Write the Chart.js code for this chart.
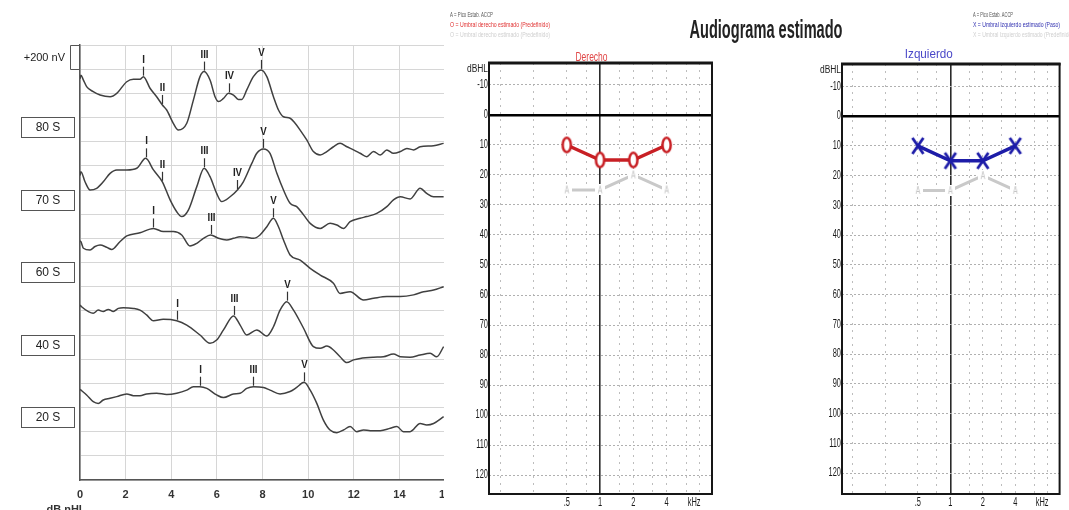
<!DOCTYPE html>
<html><head><meta charset="utf-8">
<script src="https://cdn.jsdelivr.net/npm/chart.js@4.4.1/dist/chart.umd.min.js"></script>
<style>
html,body{margin:0;padding:0;background:#fff;width:1069px;height:510px;overflow:hidden;}
#abrWrap{position:absolute;left:0;top:0;width:444px;height:510px;overflow:hidden;}
#abr{position:absolute;left:0;top:0;}
#right{position:absolute;left:440px;top:0;}
#left{position:absolute;left:793px;top:0;}
</style></head><body>
<div id="abrWrap"><canvas id="abr" width="470" height="510"></canvas></div>
<canvas id="right" width="420" height="510"></canvas>
<canvas id="left" width="276" height="510"></canvas>
<script>
// ---------- ABR data (x = latency ms, y = trace level in 200 nV divisions) ----------
const trace80 = [[0,16.6],[0.04,16.75],[0.15,16.55],[0.29,16.28],[0.58,16.07],[0.88,15.93],[1.32,15.86],[1.61,16.0],[2.05,16.48],[2.34,16.58],[2.63,16.58],[2.78,16.69],[3.07,16.21],[3.36,15.86],[3.61,15.52],[3.80,15.31],[4.09,14.76],[4.31,14.48],[4.68,14.76],[4.97,15.72],[5.26,16.69],[5.44,16.90],[5.70,16.55],[5.92,15.86],[6.07,15.66],[6.29,15.79],[6.51,16.0],[6.73,15.93],[6.94,15.75],[7.09,15.75],[7.31,16.14],[7.60,16.69],[7.94,16.97],[8.19,16.69],[8.48,15.86],[8.70,15.31],[8.92,15.03],[9.21,14.97],[9.43,14.76],[9.65,14.48],[9.94,14.07],[10.23,13.59],[10.53,13.45],[10.82,13.59],[11.11,13.79],[11.40,13.93],[11.70,13.79],[11.99,13.66],[12.28,13.52],[12.57,13.38],[12.87,13.59],[13.16,13.45],[13.45,13.66],[13.74,13.52],[14.04,13.59],[14.33,13.72],[14.62,13.66],[14.91,13.79],[15.50,13.83],[15.94,13.93]];
const trace70 = [[0,12.6],[0.04,12.76],[0.22,12.34],[0.44,12.0],[0.73,12.07],[1.02,12.34],[1.32,12.69],[1.61,12.83],[2.05,12.83],[2.49,12.90],[2.88,13.31],[3.22,12.83],[3.61,12.34],[3.95,11.59],[4.24,11.10],[4.46,10.90],[4.75,11.17],[5.12,12.14],[5.44,12.90],[5.70,12.55],[5.99,11.86],[6.21,11.52],[6.58,11.72],[6.90,12.0],[7.16,12.34],[7.53,13.10],[7.75,13.52],[8.04,13.70],[8.33,13.52],[8.63,12.69],[8.92,12.0],[9.21,11.45],[9.50,11.31],[9.80,10.97],[10.09,10.62],[10.53,10.41],[10.96,10.62],[11.26,10.55],[11.55,10.41],[11.84,10.69],[12.28,10.83],[12.57,10.90],[13.01,11.03],[13.45,11.31],[13.74,11.59],[14.04,11.72],[14.47,11.63],[14.91,12.07],[15.20,11.86],[15.50,11.72],[15.94,11.72]];
const trace60 = [[0,9.9],[0.04,9.86],[0.15,9.59],[0.44,9.52],[0.66,9.66],[0.88,9.72],[1.17,9.63],[1.39,9.54],[1.75,9.86],[2.05,10.10],[2.63,10.23],[3.22,10.41],[3.65,10.28],[4.09,10.28],[4.46,10.14],[4.82,9.68],[5.12,9.79],[5.41,10.0],[5.73,10.14],[6.07,10.0],[6.43,9.93],[6.73,10.0],[7.02,10.07],[7.31,10.04],[7.60,10.0],[7.89,10.14],[8.19,10.48],[8.48,10.83],[8.70,10.48],[8.92,9.93],[9.21,9.31],[9.65,9.10],[10.09,8.76],[10.53,8.48],[11.11,8.14],[11.40,7.72],[11.84,7.79],[12.43,7.45],[12.87,7.52],[13.45,7.59],[14.04,7.59],[14.62,7.66],[15.06,7.79],[15.50,7.86],[15.94,8.0]];
const trace40 = [[0,7.24],[0.07,7.17],[0.37,6.97],[0.58,6.90],[0.80,7.03],[1.02,6.97],[1.24,7.06],[1.46,6.97],[1.68,7.10],[1.90,7.13],[2.34,7.10],[2.63,7.03],[2.92,6.83],[3.22,6.59],[3.65,6.65],[4.24,6.59],[4.68,6.41],[5.26,6.0],[5.70,5.66],[5.99,5.79],[6.29,6.21],[6.73,6.79],[7.02,6.41],[7.31,6.0],[7.75,6.21],[8.19,5.96],[8.48,6.34],[8.77,7.03],[9.06,7.38],[9.36,7.03],[9.80,6.28],[10.23,5.52],[10.53,5.45],[10.82,5.54],[11.11,5.38],[11.40,5.10],[11.70,4.86],[11.99,4.97],[12.28,5.03],[12.87,5.08],[13.30,5.10],[13.74,5.21],[14.04,5.10],[14.47,5.08],[14.91,5.17],[15.35,5.24],[15.64,5.10],[15.94,5.52]];
const trace20 = [[0,3.75],[0.04,3.72],[0.29,3.52],[0.58,3.24],[0.80,3.17],[1.02,3.31],[1.32,3.38],[1.61,3.45],[2.05,3.56],[2.34,3.49],[2.63,3.49],[2.92,3.56],[3.36,3.59],[3.80,3.54],[4.24,3.59],[4.68,3.72],[4.97,3.86],[5.26,3.86],[5.56,3.79],[5.99,3.52],[6.29,3.41],[6.73,3.56],[7.02,3.59],[7.31,3.79],[7.60,3.86],[8.04,3.83],[8.33,3.72],[8.77,3.56],[9.21,3.66],[9.50,3.83],[9.82,4.04],[10.09,3.72],[10.38,3.17],[10.67,2.48],[10.96,2.07],[11.26,1.96],[11.55,2.07],[11.84,2.21],[12.13,2.0],[12.43,2.07],[12.72,2.04],[13.16,2.04],[13.60,2.14],[13.89,2.21],[14.18,2.0],[14.47,2.0],[14.91,2.34],[15.20,2.28],[15.50,2.34],[15.94,2.62]];
const peaks80 = [['I',2.78],['II',3.61],['III',5.44],['IV',6.51],['V',7.94]];
const peaks70 = [['I',2.88],['II',3.61],['III',5.44],['IV',6.90],['V',8.04]];
const peaks60 = [['I',3.22],['III',5.73],['V',8.48]];
const peaks40 = [['I',4.24],['III',6.73],['V',9.06]];
const peaks20 = [['I',5.26],['III',7.60],['V',9.82]];
const levelLabels = ['80 S','70 S','60 S','40 S','20 S'];
const levelPos = [14.6, 11.6, 8.6, 5.6, 2.6];
const scaleBarLabel = '+200 nV';
const scaleBarTop = 18, scaleBarSize = 1;
const abrXLabel = 'dB nHL';

// ---------- Audiogram data ----------
const freqs = [0.5, 1, 2, 4];
const rightThreshold = [10, 15, 15, 10];
const rightEstimate = [25, 25, 20, 25];
const leftThreshold = [10, 15, 15, 10];
const leftEstimate = [25, 25, 20, 25];
const gridFreqs = [0.125, 0.25, 0.5, 0.75, 1, 1.5, 2, 3, 4, 6, 8];
const freqLabelVals = [0.5, 1, 2, 4];
const freqLabelText = ['.5', '1', '2', '4'];
const dbTicks = [-10, 0, 10, 20, 30, 40, 50, 60, 70, 80, 90, 100, 110, 120];

const FONT = '"Liberation Sans", Arial, sans-serif';
Chart.defaults.font.family = FONT;

function drawText(ctx, s, x, y, o) {
  ctx.save();
  ctx.font = o.font; ctx.fillStyle = o.color || '#222';
  ctx.textAlign = o.align || 'center'; ctx.textBaseline = o.base || 'middle';
  let sx = o.sx || 1;
  if (o.width) sx = o.width / ctx.measureText(s).width;
  ctx.translate(x, y); ctx.scale(sx, 1); ctx.fillText(s, 0, 0);
  ctx.restore();
}

// ---------- ABR chart ----------
const traces = [trace80, trace70, trace60, trace40, trace20];
const peakSets = [peaks80, peaks70, peaks60, peaks40, peaks20];

const abrOverlay = {
  id: 'abrOverlay',
  afterDraw(chart) {
    const {ctx, chartArea: a, scales: {x, y}} = chart;
    ctx.save();
    levelLabels.forEach((lab, i) => {
      const py = Math.round(y.getPixelForValue(levelPos[i]));
      ctx.fillStyle = '#fff'; ctx.fillRect(21, py - 10, 53, 20);
      ctx.strokeStyle = '#555'; ctx.lineWidth = 1; ctx.strokeRect(21.5, py - 9.5, 53, 20);
      drawText(ctx, lab, 48, py + 1, {font: '12px ' + FONT, color: '#222'});
    });
    const yT = Math.round(y.getPixelForValue(scaleBarTop)) + 0.5;
    const yB = Math.round(y.getPixelForValue(scaleBarTop - scaleBarSize)) + 0.5;
    ctx.strokeStyle = '#555'; ctx.lineWidth = 1;
    ctx.beginPath(); ctx.moveTo(a.left, yT); ctx.lineTo(70.5, yT); ctx.lineTo(70.5, yB); ctx.lineTo(a.left, yB); ctx.stroke();
    drawText(ctx, scaleBarLabel, 65, (yT + yB) / 2, {font: '11px ' + FONT, color: '#222', align: 'right'});
    chart.data.datasets.forEach((ds, i) => {
      peakSets[i].forEach(([lab, t]) => {
        let best = 0;
        ds.data.forEach((p, k) => { if (Math.abs(p.x - t) < Math.abs(ds.data[best].x - t)) best = k; });
        const px = Math.round(x.getPixelForValue(ds.data[best].x)) + 0.5;
        const py = y.getPixelForValue(ds.data[best].y);
        ctx.strokeStyle = '#333'; ctx.lineWidth = 1.2;
        ctx.beginPath(); ctx.moveTo(px, py - 1); ctx.lineTo(px, py - 10); ctx.stroke();
        drawText(ctx, lab, px, py - 14, {font: 'bold 11px ' + FONT, color: '#222', base: 'alphabetic', sx: 0.88});
      });
    });
    drawText(ctx, abrXLabel, 66, 504, {font: 'bold 11px ' + FONT, color: '#333', base: 'top'});
    ctx.restore();
  }
};

new Chart(document.getElementById('abr'), {
  type: 'line',
  data: {
    datasets: traces.map((t, i) => ({
      label: levelLabels[i],
      data: t.map(p => ({x: p[0], y: p[1]})),
      borderColor: '#404040', borderWidth: 1.5, pointRadius: 0,
      cubicInterpolationMode: 'monotone', fill: false
    }))
  },
  options: {
    responsive: false, animation: false,
    layout: {padding: {top: 45, right: 25, left: 0, bottom: 0}},
    plugins: {legend: {display: false}, tooltip: {enabled: false}},
    scales: {
      x: {type: 'linear', min: 0, max: 16,
        ticks: {stepSize: 2, padding: 8, color: '#333', font: {size: 11, weight: 'bold'}},
        grid: {color: '#d6d6d6', drawTicks: false},
        border: {color: '#555', width: 1.5},
        afterFit: s => { s.height = 30; }},
      y: {type: 'linear', min: 0, max: 18,
        ticks: {stepSize: 1, display: false},
        grid: {color: '#d6d6d6', drawTicks: false},
        border: {color: '#555', width: 1.5},
        afterFit: s => { s.width = 80; }}
    }
  },
  plugins: [abrOverlay]
});

// ---------- Audiograms ----------
function markerO(color) {
  const c = document.createElement('canvas'); c.width = 13; c.height = 19;
  const g = c.getContext('2d');
  g.beginPath(); g.ellipse(6.5, 9.5, 4.1, 7.2, 0, 0, Math.PI * 2);
  g.fillStyle = '#fff'; g.fill(); g.lineWidth = 2.5; g.strokeStyle = color; g.stroke();
  return c;
}
function markerX(color) {
  const c = document.createElement('canvas'); c.width = 16; c.height = 20;
  const g = c.getContext('2d');
  g.strokeStyle = color; g.lineWidth = 2.8;
  g.beginPath(); g.moveTo(2.5, 2); g.lineTo(13.5, 18); g.moveTo(13.5, 2); g.lineTo(2.5, 18); g.stroke();
  return c;
}
function markerA(color) {
  const c = document.createElement('canvas'); c.width = 10; c.height = 11;
  const g = c.getContext('2d');
  g.fillStyle = '#fff'; g.fillRect(0, 0, 10, 11);
  g.fillStyle = color; g.font = '10px ' + FONT; g.textAlign = 'center'; g.textBaseline = 'middle';
  g.translate(5, 6); g.scale(0.7, 1); g.fillText('A', 0, 0);
  return c;
}

function makeAudiogram(id, cfg) {
  const overlay = {
    id: 'audioOverlay',
    afterDraw(chart) {
      const {ctx, chartArea: a, scales: {x, y}} = chart;
      ctx.save();
      ctx.strokeStyle = '#161616';
      ctx.lineWidth = 2; ctx.strokeRect(a.left, a.top, a.right - a.left, a.bottom - a.top);
      ctx.lineWidth = 3; ctx.beginPath(); ctx.moveTo(a.left - 1, a.top); ctx.lineTo(a.right + 1, a.top); ctx.stroke();
      y.ticks.forEach(t => drawText(ctx, String(t.value), a.left - 1, y.getPixelForValue(t.value),
        {font: '12px ' + FONT, align: 'right', sx: 0.62, color: '#1a1a1a'}));
      freqLabelVals.forEach((f, i) => drawText(ctx, freqLabelText[i], x.getPixelForValue(f), a.bottom + 9,
        {font: '12px ' + FONT, sx: 0.62, color: '#1a1a1a'}));
      drawText(ctx, 'kHz', x.getPixelForValue(7.1), a.bottom + 9, {font: '12px ' + FONT, sx: 0.62, color: '#1a1a1a'});
      drawText(ctx, 'dBHL', a.left - 1, a.top + 6, {font: '10px ' + FONT, align: 'right', width: 21, color: '#222'});
      drawText(ctx, cfg.side, (a.left + a.right) / 2 + cfg.sideDx, cfg.sideY,
        {font: '13px ' + FONT, color: cfg.sideColor, width: cfg.sideW, base: 'alphabetic'});
      cfg.legend.forEach((l, i) => drawText(ctx, l[0], cfg.legendX, 15 + i * 10,
        {font: '7px ' + FONT, color: l[1], align: 'left', width: l[2]}));
      if (cfg.title) drawText(ctx, cfg.title, cfg.titleX, 38,
        {font: 'bold 25px ' + FONT, color: '#222', base: 'alphabetic', width: 153});
      ctx.restore();
    }
  };
  return new Chart(document.getElementById(id), {
    type: 'line',
    data: {
      datasets: [
        {label: cfg.mainLabel, data: freqs.map((f, i) => ({x: f, y: cfg.main[i]})),
          borderColor: cfg.color, borderWidth: 3.4, pointStyle: cfg.marker, pointRadius: 6, order: 1},
        {label: 'A', data: freqs.map((f, i) => ({x: f, y: cfg.est[i]})),
          borderColor: '#c9c9c9', borderWidth: 3, pointStyle: markerA('#c4c4c4'), pointRadius: 5, order: 2}
      ]
    },
    options: {
      responsive: false, animation: false,
      layout: {padding: {top: cfg.top, right: cfg.padRight, left: 0, bottom: 0}},
      plugins: {legend: {display: false}, tooltip: {enabled: false}},
      scales: {
        x: {type: 'logarithmic', min: 0.099, max: 10.3,
          afterBuildTicks: s => { s.ticks = gridFreqs.map(v => ({value: v})); },
          ticks: {display: false},
          grid: {drawTicks: false,
            color: c => (c.tick && c.tick.value === 1) ? '#2a2a2a' : '#bdbdbd',
            lineWidth: c => (c.tick && c.tick.value === 1) ? 1.6 : 1},
          border: {display: false, dash: c => (c.tick && c.tick.value === 1) ? [] : [2, 5]},
          afterFit: s => { s.height = 16; }},
        y: {type: 'linear', reverse: true, min: cfg.min, max: cfg.max,
          afterBuildTicks: s => { s.ticks = dbTicks.map(v => ({value: v})); },
          ticks: {display: false},
          grid: {drawTicks: false,
            color: c => (c.tick && c.tick.value === 0) ? '#000' : '#b0b0b0',
            lineWidth: c => (c.tick && c.tick.value === 0) ? 2.5 : 1},
          border: {display: false, dash: c => (c.tick && c.tick.value === 0) ? [] : [2, 2]},
          afterFit: s => { s.width = 49; }}
      }
    },
    plugins: [overlay]
  });
}

makeAudiogram('right', {
  mainLabel: 'Derecho', main: rightThreshold, est: rightEstimate,
  color: '#c81f24', marker: markerO('#c81f24'),
  top: 63, min: -17.3, max: 126.3, padRight: 148,
  side: 'Derecho', sideColor: '#e04646', sideDx: -9, sideY: 61, sideW: 32,
  legendX: 10,
  legend: [['A = Pico Estab. ACCP', '#555', 43], ['O = Umbral derecho estimado (Predefinido)', '#e03030', 100], ['O = Umbral derecho estimado (Predefinido)', '#cfcfcf', 100]],
  title: 'Audiograma estimado', titleX: 326
});
makeAudiogram('left', {
  mainLabel: 'Izquierdo', main: leftThreshold, est: leftEstimate,
  color: '#1d1ca8', marker: markerX('#1d1ca8'),
  top: 64, min: -17.5, max: 127, padRight: 5,
  side: 'Izquierdo', sideColor: '#4a48c8', sideDx: -22, sideY: 58, sideW: 48,
  legendX: 180,
  legend: [['A = Pico Estab. ACCP', '#555', 40], ['X = Umbral Izquierdo estimado (Paso)', '#3030b0', 87], ['X = Umbral Izquierdo estimado (Predefinido)', '#cfcfcf', 100]],
  title: null
});
</script>
</body></html>
